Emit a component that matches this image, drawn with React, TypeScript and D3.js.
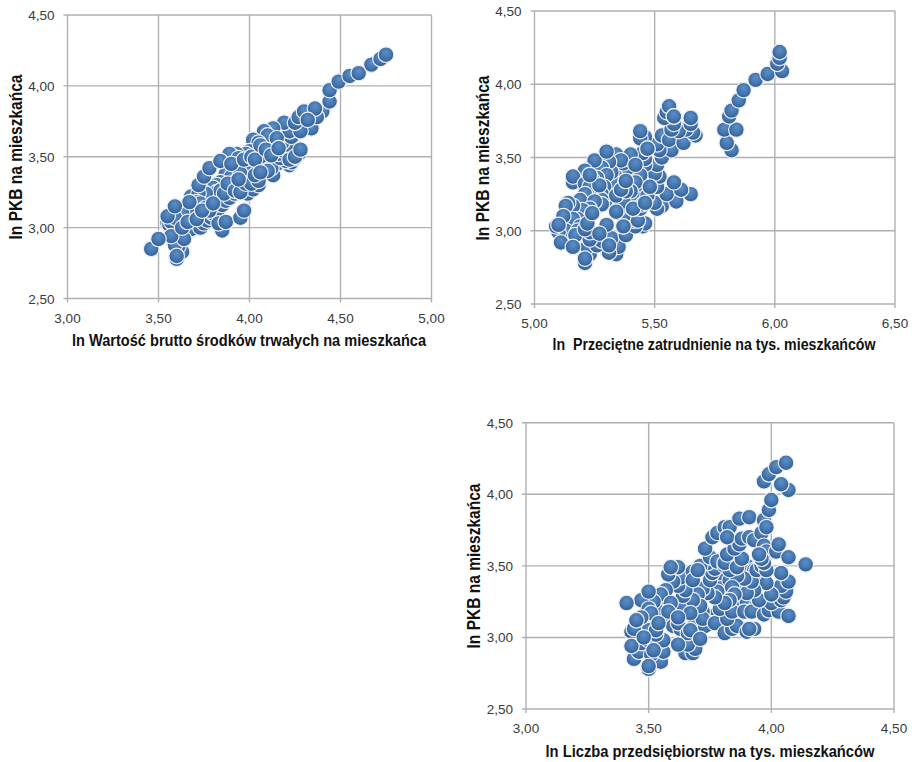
import React from "react";
import * as d3 from "d3";

// [x, y], back-to-front so the overlap looks the same
const wartoscPoints: [number, number][] = [
  [3.68, 3.22], [3.78, 3.18], [3.90, 3.30], [4.08, 3.45], [4.15, 3.45], [4.12, 3.60], [4.28, 3.72], [4.17, 3.68],
  [4.32, 3.72], [4.38, 3.80],
  [3.60, 2.78], [3.63, 2.83], [3.61, 2.87], [3.59, 2.88], [3.55, 3.03], [3.56, 3.02], [3.57, 3.04], [3.62, 3.04],
  [3.66, 2.97], [3.68, 2.99], [3.73, 3.00], [3.75, 3.03], [3.77, 3.05], [3.79, 3.07], [3.80, 3.10], [3.83, 3.13],
  [3.85, 3.16], [3.87, 3.19], [3.89, 3.21], [3.92, 3.24], [3.96, 3.25], [3.99, 3.24], [4.02, 3.27], [4.05, 3.30],
  [4.13, 3.37], [4.12, 3.42], [4.10, 3.40], [4.22, 3.44], [4.23, 3.46], [4.20, 3.47], [4.27, 3.52], [4.25, 3.49],
  [4.17, 3.49], [4.16, 3.52], [4.19, 3.54], [4.21, 3.58], [4.18, 3.60], [4.20, 3.66], [4.23, 3.64], [4.22, 3.68],
  [4.19, 3.74], [4.13, 3.70], [4.08, 3.68], [4.10, 3.65], [4.15, 3.63], [4.02, 3.62], [4.05, 3.60], [4.00, 3.54],
  [3.98, 3.52], [3.93, 3.52], [3.91, 3.50], [3.89, 3.52], [3.94, 3.49], [3.96, 3.46], [3.99, 3.42], [4.02, 3.41],
  [4.00, 3.38], [3.87, 3.38], [3.90, 3.36], [3.93, 3.33], [3.95, 3.38], [3.84, 3.32], [3.82, 3.30], [3.80, 3.28],
  [3.82, 3.25], [3.84, 3.26], [3.86, 3.24], [3.74, 3.26], [3.76, 3.24], [3.72, 3.24], [3.71, 3.18], [3.73, 3.17],
  [3.76, 3.14], [3.78, 3.12], [3.72, 3.10], [3.69, 3.07], [3.66, 3.12], [3.63, 3.10], [3.67, 3.18], [3.59, 3.07],
  [3.55, 3.08], [3.59, 3.15], [3.72, 3.30], [3.75, 3.36], [3.78, 3.42], [3.84, 3.47], [3.90, 3.45], [3.97, 3.48],
  [4.01, 3.50], [4.06, 3.50], [4.03, 3.48], [4.06, 3.58], [4.09, 3.55], [4.12, 3.51], [4.16, 3.56], [4.22, 3.48],
  [4.25, 3.50], [4.28, 3.55], [4.34, 3.70], [4.28, 3.68], [4.25, 3.74], [4.27, 3.78], [4.30, 3.82], [4.40, 3.82],
  [4.37, 3.78], [4.36, 3.84], [4.32, 3.76], [4.44, 3.89], [4.44, 3.97], [4.49, 4.03], [4.55, 4.07], [4.60, 4.09],
  [4.67, 4.15], [4.72, 4.19], [4.75, 4.22], [3.88, 3.31], [3.92, 3.26], [3.95, 3.25], [3.98, 3.31], [4.01, 3.31],
  [4.05, 3.33], [4.03, 3.37], [4.06, 3.39], [3.94, 3.34], [3.85, 2.98], [3.83, 3.03], [3.87, 3.04], [3.95, 3.07],
  [3.97, 3.12], [3.64, 2.92], [3.60, 2.80], [3.57, 2.94], [3.63, 3.00], [3.66, 3.04], [3.71, 3.06], [3.74, 3.12],
  [3.80, 3.17], [3.46, 2.85], [3.50, 2.92],
];

const zatrudnieniePoints: [number, number][] = [
  [5.45, 3.25], [5.42, 3.22], [5.33, 3.20], [5.31, 3.30], [5.35, 3.38], [5.44, 3.45], [5.33, 3.33],
  [5.21, 2.78], [5.23, 2.84], [5.22, 2.89], [5.34, 2.84], [5.35, 2.89], [5.31, 2.85], [5.26, 2.90], [5.28, 2.93],
  [5.32, 2.95], [5.38, 2.97], [5.37, 3.03], [5.45, 3.03], [5.46, 3.05], [5.42, 3.03], [5.41, 3.07], [5.43, 3.07],
  [5.37, 3.10], [5.35, 3.15], [5.44, 3.15], [5.41, 3.15], [5.45, 3.18], [5.53, 3.17], [5.51, 3.15], [5.50, 3.19],
  [5.47, 3.24], [5.59, 3.20], [5.55, 3.25], [5.65, 3.25], [5.61, 3.28], [5.58, 3.33], [5.51, 3.30], [5.52, 3.37],
  [5.50, 3.39], [5.51, 3.45], [5.46, 3.45], [5.46, 3.49], [5.45, 3.53], [5.53, 3.50], [5.57, 3.55], [5.52, 3.55],
  [5.51, 3.59], [5.53, 3.65], [5.56, 3.62], [5.62, 3.60], [5.67, 3.65], [5.66, 3.67], [5.63, 3.69], [5.60, 3.68],
  [5.57, 3.69], [5.58, 3.73], [5.65, 3.73], [5.65, 3.77], [5.54, 3.77], [5.55, 3.81], [5.56, 3.85], [5.58, 3.78],
  [5.46, 3.64], [5.44, 3.63], [5.44, 3.68], [5.47, 3.56], [5.48, 3.30], [5.42, 3.40], [5.40, 3.36], [5.44, 3.38],
  [5.42, 3.33], [5.40, 3.27], [5.38, 3.34], [5.39, 3.43], [5.37, 3.46], [5.38, 3.49], [5.40, 3.52], [5.34, 3.52],
  [5.36, 3.48], [5.42, 3.45], [5.32, 3.40], [5.31, 3.47], [5.28, 3.43], [5.30, 3.38], [5.26, 3.36], [5.24, 3.35],
  [5.25, 3.48], [5.30, 3.54], [5.21, 3.41], [5.23, 3.38], [5.16, 3.33], [5.16, 3.37], [5.21, 3.32], [5.23, 3.30],
  [5.21, 3.25], [5.19, 3.21], [5.27, 3.31], [5.29, 3.30], [5.28, 3.25], [5.28, 3.21], [5.28, 3.18], [5.25, 3.20],
  [5.23, 3.15], [5.20, 3.14], [5.16, 3.17], [5.14, 3.19], [5.13, 3.17], [5.18, 3.08], [5.15, 3.05], [5.16, 3.08],
  [5.12, 3.10], [5.13, 3.00], [5.10, 2.99], [5.09, 3.03], [5.10, 3.04], [5.19, 3.03], [5.18, 3.00], [5.17, 2.97],
  [5.23, 2.94], [5.23, 2.99], [5.21, 3.01], [5.22, 3.05], [5.24, 3.12], [5.36, 3.18], [5.37, 3.20], [5.34, 3.13],
  [5.34, 3.24], [5.38, 3.27], [5.36, 3.28], [5.38, 3.34], [5.30, 3.04], [5.27, 2.98], [5.31, 2.90], [5.11, 2.92],
  [5.16, 2.89], [5.21, 2.81], [5.37, 3.03], [5.41, 3.15], [5.46, 3.19], [5.48, 3.30], [5.47, 3.56], [5.58, 3.78],
  [5.27, 3.31], [5.23, 3.38],
  [5.82, 3.55], [5.80, 3.60], [5.79, 3.69], [5.84, 3.69], [5.81, 3.78], [5.82, 3.82], [5.85, 3.89], [5.87, 3.96],
  [5.92, 4.03], [5.97, 4.07], [6.03, 4.09], [6.01, 4.14], [6.02, 4.18], [6.02, 4.22],
];

const przedsiebiorstwaPoints: [number, number][] = [
  [3.78, 3.17], [3.75, 3.10], [3.87, 3.20], [3.90, 3.25], [3.94, 3.22], [3.88, 3.36], [3.80, 3.40], [3.79, 3.45],
  [3.90, 3.50], [3.93, 3.47], [3.95, 3.43], [3.96, 3.38], [3.83, 3.40], [3.86, 3.38], [3.78, 3.32], [3.69, 3.10],
  [3.60, 3.15], [3.66, 3.20], [3.64, 3.22], [3.72, 3.18], [3.56, 3.13], [3.55, 3.22], [3.54, 3.18], [3.48, 3.08],
  [3.50, 3.05],
  [3.50, 2.78], [3.55, 2.83], [3.44, 2.85], [3.46, 2.90], [3.51, 2.88], [3.56, 2.90], [3.65, 2.89], [3.68, 2.89],
  [3.69, 2.92], [3.66, 2.95], [3.47, 2.96], [3.50, 2.98], [3.53, 2.95], [3.56, 2.98], [3.53, 3.02], [3.43, 3.04],
  [3.44, 3.06], [3.53, 3.05], [3.60, 3.08], [3.63, 3.06], [3.62, 3.10], [3.66, 3.03], [3.67, 3.05], [3.73, 3.08],
  [3.72, 3.13], [3.77, 3.10], [3.81, 3.03], [3.84, 3.06], [3.86, 3.08], [3.90, 3.04], [3.93, 3.06], [3.91, 3.06],
  [3.82, 3.13], [3.79, 3.20], [3.84, 3.18], [3.89, 3.18], [3.92, 3.18], [3.97, 3.16], [3.99, 3.19], [4.03, 3.18],
  [4.07, 3.15], [4.00, 3.24], [3.95, 3.26], [4.04, 3.26], [4.05, 3.28], [4.06, 3.32], [4.04, 3.36], [4.07, 3.39],
  [4.04, 3.45], [4.00, 3.30], [3.98, 3.38], [3.93, 3.33], [3.90, 3.31], [3.92, 3.39], [3.89, 3.41], [3.86, 3.43],
  [3.84, 3.35], [3.85, 3.30], [3.83, 3.26], [3.81, 3.24], [3.77, 3.28], [3.74, 3.31], [3.72, 3.34], [3.70, 3.30],
  [3.71, 3.22], [3.68, 3.26], [3.67, 3.17], [3.64, 3.29], [3.65, 3.33], [3.62, 3.36], [3.63, 3.42], [3.60, 3.39],
  [3.58, 3.44], [3.62, 3.49], [3.59, 3.49], [3.68, 3.46], [3.68, 3.40], [3.57, 3.33], [3.55, 3.30], [3.59, 3.24],
  [3.52, 3.25], [3.47, 3.26], [3.50, 3.20], [3.51, 3.17], [3.58, 3.18], [3.50, 3.32], [3.47, 3.14], [3.45, 3.12],
  [3.54, 3.10], [3.62, 3.14], [3.41, 3.24], [3.43, 2.94], [3.48, 3.00], [3.52, 2.91], [3.62, 2.95], [3.71, 2.99],
  [3.50, 2.80], [3.75, 3.40], [3.76, 3.45], [3.77, 3.48], [3.74, 3.52], [3.71, 3.50], [3.70, 3.47], [3.75, 3.56],
  [3.78, 3.53], [3.81, 3.50], [3.83, 3.47], [3.81, 3.52], [3.82, 3.58], [3.86, 3.49], [3.88, 3.55], [3.85, 3.62],
  [3.87, 3.65], [3.73, 3.62], [3.76, 3.70], [3.78, 3.73], [3.81, 3.77], [3.83, 3.77], [3.82, 3.70], [3.87, 3.83],
  [3.91, 3.84], [3.88, 3.69], [3.91, 3.70], [3.93, 3.68], [3.96, 3.73], [3.97, 3.82], [3.98, 3.77], [3.97, 3.64],
  [3.98, 3.60], [4.02, 3.60], [4.03, 3.65], [3.94, 3.47], [3.96, 3.50], [3.98, 3.47], [3.97, 3.52], [3.96, 3.55],
  [3.95, 3.58], [4.07, 3.56], [4.14, 3.51], [3.99, 3.89], [4.00, 3.96], [4.07, 4.03], [4.04, 4.07], [3.97, 4.09],
  [3.99, 4.14], [4.02, 4.19], [4.06, 4.22],
];

const xTicks1 = [3, 3.5, 4, 4.5, 5];
const xTicks2 = [5, 5.5, 6, 6.5];
const xTicks3 = [3, 3.5, 4, 4.5];
const yTicks = [2.5, 3, 3.5, 4, 4.5];

const yTitle = "ln PKB na mieszkańca";
const fmt = d3.formatLocale({ decimal: ",", thousands: " ", grouping: [3], currency: ["", ""] }).format(".2f");

type PanelProps = {
  points: [number, number][];
  xTicks: number[];
  xTitle: string;
  titleWidth: number;
  left: number;
  right: number;
  top: number;
  bottom: number;
  titleX: number;
  titleY: number;
  yTitleX: number;
  yTitleY: number;
};

const Panel = ({ points, xTicks, xTitle, titleWidth, left, right, top, bottom, titleX, titleY, yTitleX, yTitleY }: PanelProps) => {
  const x = d3.scaleLinear().domain([xTicks[0], xTicks[xTicks.length - 1]]).range([left, right]);
  const y = d3.scaleLinear().domain([2.5, 4.5]).range([bottom, top]);
  const grid = "#b0b0b0";
  const tickColor = "#3a3a3a";

  return (
    <g>
      {xTicks.map((t) => (
        <g key={t}>
          <line x1={x(t)} x2={x(t)} y1={top} y2={bottom + 4} stroke={grid} strokeWidth={1.4} />
          <text x={x(t)} y={bottom + 24} textAnchor="middle" fontSize={13.5} fill={tickColor}>{fmt(t)}</text>
        </g>
      ))}
      {yTicks.map((t) => (
        <g key={t}>
          <line x1={left - 4} x2={right} y1={y(t)} y2={y(t)} stroke={grid} strokeWidth={1.4} />
          <text x={left - 13} y={y(t) + 5} textAnchor="end" fontSize={13.5} fill={tickColor}>{fmt(t)}</text>
        </g>
      ))}
      <g filter="url(#soft)">
        {points.map((d, i) => (
          <circle key={i} cx={x(d[0])} cy={y(d[1])} r={7.8} fill="url(#marker)" stroke="#eef1f6" strokeWidth={1.2} />
        ))}
      </g>
      <text transform={`translate(${titleX},${titleY}) scale(1,1.12)`} textAnchor="middle" fontSize={15} fontWeight="bold" fill="#111" textLength={titleWidth} lengthAdjust="spacingAndGlyphs" style={{ whiteSpace: "pre" }}>{xTitle}</text>
      <text transform={`translate(${yTitleX},${yTitleY}) rotate(-90) scale(1,1.12)`} textAnchor="middle" fontSize={16} fontWeight="bold" fill="#111" textLength={165} lengthAdjust="spacingAndGlyphs">{yTitle}</text>
    </g>
  );
};

export default function App() {
  return (
    <svg width={912} height={762} style={{ position: "absolute", left: 0, top: 0, fontFamily: "'Liberation Sans', Arial, sans-serif" }}>
      <defs>
        <radialGradient id="marker" cx="50%" cy="45%" r="55%" fx="50%" fy="32%">
          <stop offset="0%" stopColor="#5c8fca" />
          <stop offset="60%" stopColor="#4676ae" />
          <stop offset="100%" stopColor="#2f5c92" />
        </radialGradient>
        <filter id="soft" x="-5%" y="-5%" width="110%" height="110%">
          <feGaussianBlur stdDeviation="0.3" />
        </filter>
      </defs>
      <Panel points={wartoscPoints} xTicks={xTicks1} xTitle="ln Wartość brutto środków trwałych na mieszkańca" titleWidth={354}
        left={67.5} right={431.5} top={15} bottom={298.5} titleX={249} titleY={346} yTitleX={22} yTitleY={157} />
      <Panel points={zatrudnieniePoints} xTicks={xTicks2} xTitle="ln  Przeciętne zatrudnienie na tys. mieszkańców" titleWidth={323}
        left={534.5} right={895} top={11} bottom={304} titleX={714} titleY={350} yTitleX={489} yTitleY={158} />
      <Panel points={przedsiebiorstwaPoints} xTicks={xTicks3} xTitle="ln Liczba przedsiębiorstw na tys. mieszkańców" titleWidth={329}
        left={526} right={894} top={422.7} bottom={709} titleX={710} titleY={757} yTitleX={480} yTitleY={566} />
    </svg>
  );
}
